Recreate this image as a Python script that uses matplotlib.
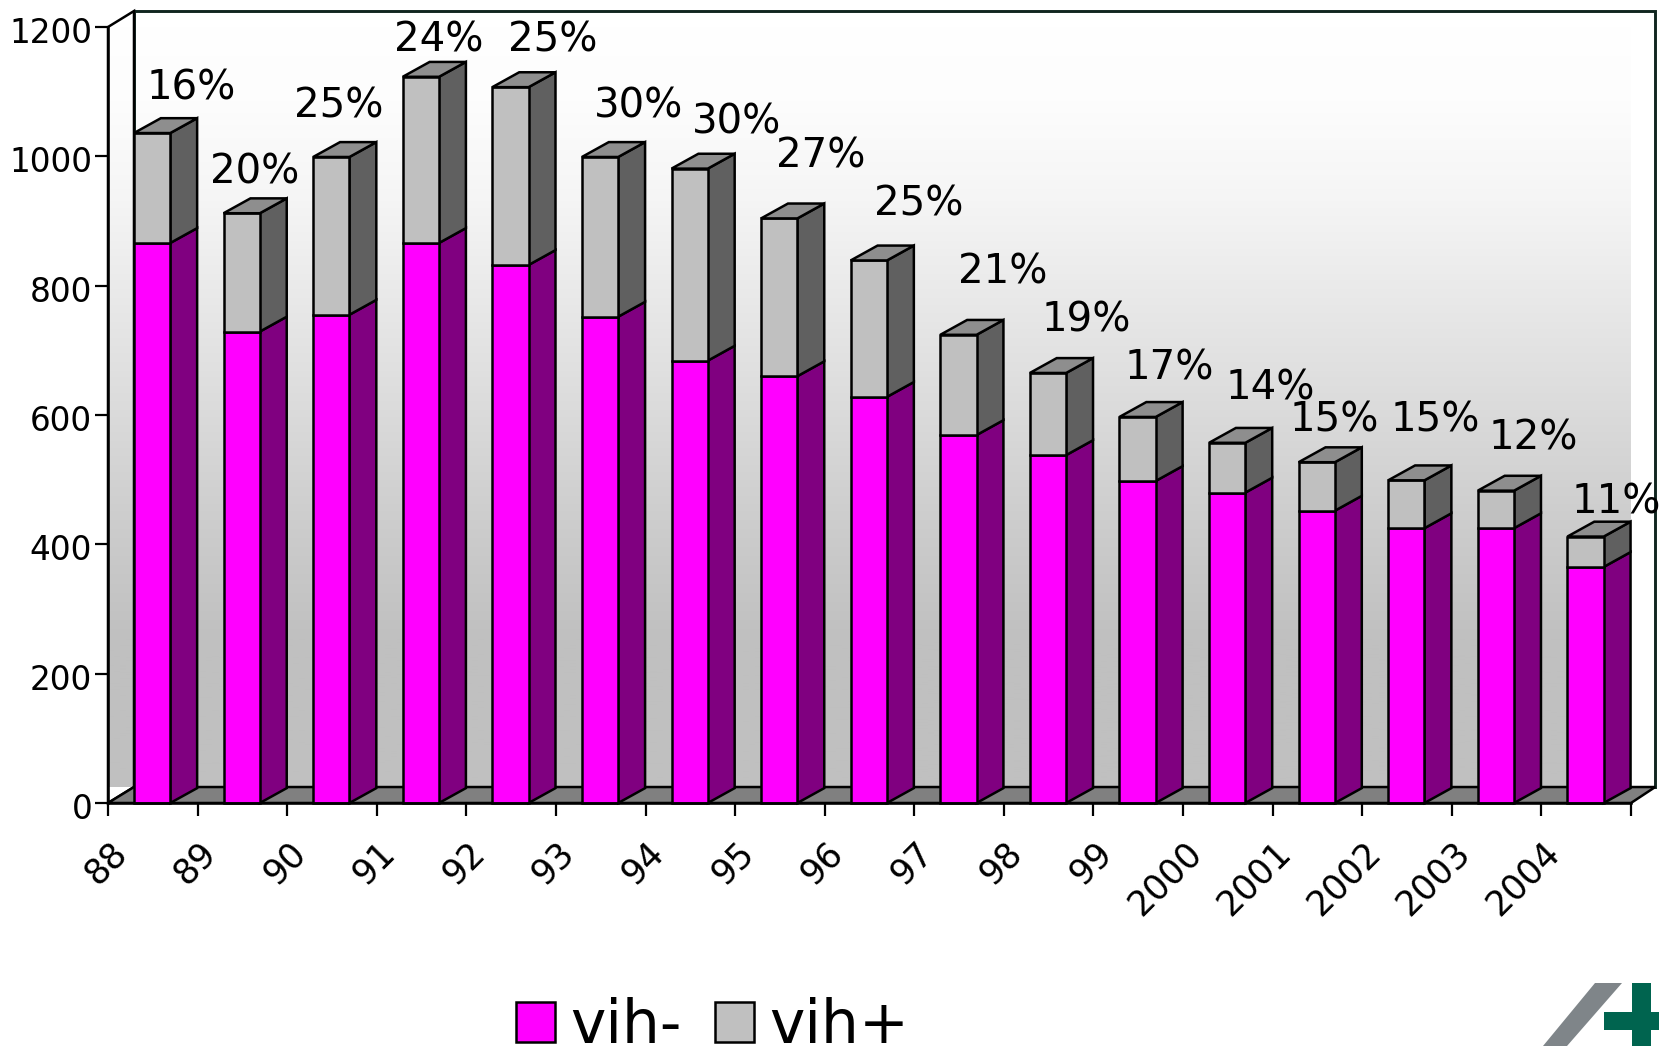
import numpy as np
import matplotlib
matplotlib.use("Agg")
import matplotlib.pyplot as plt
from matplotlib.colors import LinearSegmentedColormap
from matplotlib.patches import Polygon, Patch
from matplotlib.transforms import Affine2D, ScaledTranslation

# Yearly counts, split by HIV status
years = ["88", "89", "90", "91", "92", "93", "94", "95", "96", "97", "98", "99",
         "2000", "2001", "2002", "2003", "2004"]
vih_neg = [866, 729, 755, 866, 832, 752, 684, 660, 628, 569, 538, 498, 480, 452, 425, 425, 365]
vih_total = [1036, 912, 999, 1123, 1107, 999, 981, 904, 839, 724, 665, 597, 557, 527, 499, 483, 412]
percent_labels = ["16%", "20%", "25%", "24%", "25%", "30%", "30%", "27%", "25%", "21%",
                  "19%", "17%", "14%", "15%", "15%", "12%", "11%"]
y_ticks = [0, 200, 400, 600, 800, 1000, 1200]
series_names = ["vih-", "vih+"]

# Hand-placed label centres, in pixels from the top-left corner
label_px = [(191, 88), (255, 172), (339, 106), (439, 40), (553, 40), (639, 106), (737, 122),
            (821, 156), (919, 205), (1003, 272), (1086, 321), (1169, 369), (1270, 388),
            (1334, 420), (1435, 420), (1533, 438), (1616, 503)]

W, H = 1659, 1046
X0, X1, Y0, Y1 = 108, 1631, 803, 27
BAR_OFFSET, BAR_WIDTH = 0.29, 0.405
BAR_DX, BAR_DY = 0.30, 23
WALL_DX, WALL_DY = 0.29, 24.7
WALL_RIGHT_DX = 0.27
NEG_FRONT, NEG_SIDE = "#FF00FF", "#800080"
POS_FRONT, POS_SIDE, POS_TOP = "#C0C0C0", "#606060", "#8E8E8E"
EDGE_LW = 1.8

plt.rcParams["font.family"] = ["DejaVu Sans"]
fig = plt.figure(figsize=(W / 100, H / 100), dpi=100, facecolor="white")
ax = fig.add_axes([X0 / W, (H - Y0) / H, (X1 - X0) / W, (Y0 - Y1) / H])
ax.set_facecolor("none")

top_left_px = Affine2D().scale(1, -1).translate(0, H)

# Gradient walls behind the bars: grey at the floor, fading to white at the top
n_cat = len(years)
gradient = np.linspace(1, 0, 512).reshape(-1, 1)
cmap = LinearSegmentedColormap.from_list(
    "wall", [(0.0, "#C0C0C0"), (0.19, "#C0C0C0"), (0.344, "#CDCDCD"), (0.537, "#E0E0E0"),
             (0.756, "#F5F5F5"), (0.885, "#FDFDFD"), (1.0, "#FFFFFF")])
back = [(WALL_DX, WALL_DY), (n_cat + WALL_RIGHT_DX, WALL_DY),
        (n_cat + WALL_RIGHT_DX, 1200 + WALL_DY), (WALL_DX, 1200 + WALL_DY)]
left = [(0, 0), (WALL_DX, WALL_DY), (WALL_DX, 1200 + WALL_DY), (0, 1200)]
for verts in (back, left):
    im = ax.imshow(gradient, cmap=cmap, aspect="auto", vmin=0, vmax=1, zorder=0,
                   extent=(-0.1, n_cat + 0.5, WALL_DY, 1200 + WALL_DY), origin="upper")
    im.set_clip_path(Polygon(verts, transform=ax.transData))
ax.set_xlim(0, n_cat)
ax.set_ylim(0, 1200)

ax.add_patch(Polygon(back, closed=True, fill=False, ec="#10251F", lw=2.1, zorder=1, clip_on=False))
ax.add_patch(Polygon(left, closed=True, fill=False, ec="black", lw=EDGE_LW, zorder=1, clip_on=False))
ax.add_patch(Polygon([(0, 0), (n_cat, 0), (n_cat + WALL_RIGHT_DX, WALL_DY), (WALL_DX, WALL_DY)],
                     closed=True, fc="#808080", ec="black", lw=EDGE_LW, zorder=1, clip_on=False))


def draw_block(i, low, high, front, side):
    x = i + BAR_OFFSET
    x2 = x + BAR_WIDTH
    ax.add_patch(Polygon([(x2, low), (x2 + BAR_DX, low + BAR_DY), (x2 + BAR_DX, high + BAR_DY), (x2, high)],
                         closed=True, fc=side, ec="black", lw=EDGE_LW, zorder=3, clip_on=False))
    ax.bar(x, high - low, BAR_WIDTH, bottom=low, align="edge", color=front,
           edgecolor="black", linewidth=EDGE_LW, zorder=4, clip_on=False)


for i, (neg, total) in enumerate(zip(vih_neg, vih_total)):
    draw_block(i, 0, neg, NEG_FRONT, NEG_SIDE)
    draw_block(i, neg, total, POS_FRONT, POS_SIDE)
    x = i + BAR_OFFSET
    ax.add_patch(Polygon([(x, total), (x + BAR_WIDTH, total),
                          (x + BAR_WIDTH + BAR_DX, total + BAR_DY), (x + BAR_DX, total + BAR_DY)],
                         closed=True, fc=POS_TOP, ec="black", lw=EDGE_LW, zorder=5, clip_on=False))

# Axes, ticks and tick labels
for name in ("top", "right"):
    ax.spines[name].set_visible(False)
for name in ("left", "bottom"):
    ax.spines[name].set_linewidth(EDGE_LW)
    ax.spines[name].set_zorder(6)
ax.set_yticks(y_ticks)
ax.set_yticklabels([str(v) for v in y_ticks], fontsize=23.5, color="black")
ax.set_xticks(np.arange(n_cat + 1))
ax.set_xticklabels(years + [""], fontsize=25, rotation=45, ha="right", va="top",
                   rotation_mode="anchor", color="black")
ax.tick_params(axis="y", direction="out", length=9.4, width=1.6, pad=2)
ax.tick_params(axis="x", direction="out", length=9.4, width=1.6, pad=14)
nudge = ScaledTranslation(1 / 100, 0, fig.dpi_scale_trans)
for lab in ax.get_xticklabels():
    lab.set_transform(lab.get_transform() + nudge)
down = ScaledTranslation(0, -3 / 100, fig.dpi_scale_trans)
for lab in ax.get_yticklabels():
    lab.set_transform(lab.get_transform() + down)

# Share of positive cases above each bar
for text, (px, py) in zip(percent_labels, label_px):
    fig.text(px, py, text, transform=top_left_px, fontsize=29, ha="center", va="center",
             color="black", zorder=10)

# Legend along the bottom edge
handles = [Patch(fc=NEG_FRONT, ec="black", lw=1.8), Patch(fc=POS_FRONT, ec="black", lw=1.8)]
fig.legend(handles, series_names, ncol=2, frameon=False, fontsize=43,
           loc="lower left", bbox_to_anchor=(516 / W, -0.0095), borderpad=0, borderaxespad=0,
           handlelength=0.65, handleheight=0.65, handletextpad=0.25, columnspacing=0.57)

# Logo in the lower right corner
fig.add_artist(Polygon([(1595, 983), (1622, 983), (1567, 1046), (1543, 1046)], closed=True,
                       fc="#7F8589", ec="none", transform=top_left_px))
fig.add_artist(Polygon([(1632, 983), (1651, 983), (1651, 1012), (1659, 1012), (1659, 1030),
                        (1651, 1030), (1651, 1046), (1632, 1046), (1632, 1030), (1604, 1030),
                        (1604, 1012), (1632, 1012)], closed=True,
                       fc="#00644F", ec="none", transform=top_left_px))

fig.savefig("out.png", dpi=100)
